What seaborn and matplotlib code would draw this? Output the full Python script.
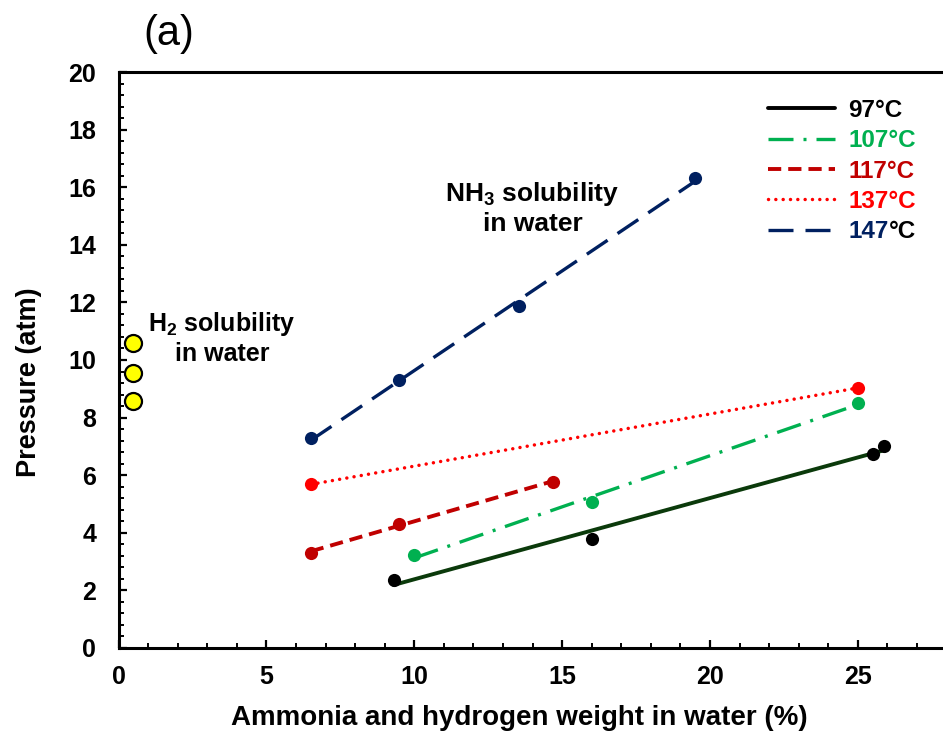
import numpy as np
import matplotlib
matplotlib.use("Agg")
import matplotlib.pyplot as plt
import seaborn as sns
from matplotlib.lines import Line2D
from matplotlib.ticker import MultipleLocator

sns.set_theme(style="white")
plt.rcParams["font.family"] = ["Liberation Sans", "DejaVu Sans"]
plt.rcParams["font.weight"] = "bold"
plt.rcParams["mathtext.fontset"] = "custom"
plt.rcParams["mathtext.rm"] = "Liberation Sans:bold"
plt.rcParams["mathtext.it"] = "Liberation Sans:bold"
plt.rcParams["mathtext.bf"] = "Liberation Sans:bold"

# Ammonia solubility: pressure vs. weight fraction at each temperature
temps = ["97°C", "107°C", "117°C", "137°C", "147°C"]
x_97 = [9.3, 16.0, 25.5, 25.9]
y_97 = [2.37, 3.77, 6.74, 7.01]
x_107 = [10.0, 16.0, 25.0]
y_107 = [3.23, 5.08, 8.52]
x_117 = [6.5, 9.5, 14.7]
y_117 = [3.31, 4.32, 5.77]
x_137 = [6.5, 25.0]
y_137 = [5.68, 9.03]
x_147 = [6.5, 9.5, 13.55, 19.5]
y_147 = [7.29, 9.31, 11.87, 16.32]

# Hydrogen solubility
x_h2 = [0.5, 0.5, 0.5]
y_h2 = [10.6, 9.56, 8.59]

x_ticks = [0, 5, 10, 15, 20, 25]
y_ticks = [0, 2, 4, 6, 8, 10, 12, 14, 16, 18, 20]

series = [
    # x, y, point colour, fit-line colour, label colour, linewidth, dashes, cap
    (x_97, y_97, "black", "#0B3A0B", "black", 2.8, None, "butt"),
    (x_107, y_107, "#00B050", "#00B050", "#00B050", 2.4, (7.5, 3.0, 0.9, 3.0), "butt"),
    (x_117, y_117, "#C00000", "#C00000", "#C00000", 2.8, (3.4, 1.8), "butt"),
    (x_137, y_137, "#FF0000", "#FF0000", "#FF0000", 2.5, (0.01, 2.1), "round"),
    (x_147, y_147, "#002060", "#002060", "#002060", 2.4, (7.5, 3.6), "butt"),
]

fig = plt.figure(figsize=(9.43, 7.34), dpi=100)
ax = fig.add_axes([0.1257, 0.1172, 0.878, 0.7847])

handles = []
for xs, ys, pc, lc, tc, lw, dash, cap in series:
    ls = "-" if dash is None else (0, dash)
    sns.regplot(
        x=np.array(xs), y=np.array(ys), ax=ax, ci=None, truncate=True,
        scatter_kws=dict(s=90, color=pc, alpha=1, linewidths=0, zorder=4),
        line_kws=dict(color=lc, lw=lw, linestyle=ls, dash_capstyle=cap, zorder=3),
    )
    handles.append(Line2D([], [], color=tc, lw=lw, linestyle=ls,
                          dash_capstyle=cap))

sns.scatterplot(x=x_h2, y=y_h2, ax=ax, s=150, color="#FFFF00",
                edgecolor="black", linewidth=1.6, zorder=5)

ax.set_xlim(0, 28)
ax.set_ylim(0, 20)
ax.set_xticks(x_ticks)
ax.set_yticks(y_ticks)
ax.xaxis.set_minor_locator(MultipleLocator(1))
ax.yaxis.set_minor_locator(MultipleLocator(0.4))
ax.tick_params(which="major", direction="in", length=6, width=1.6,
               labelsize=18, colors="black", bottom=True, left=True)
ax.tick_params(which="minor", direction="in", length=3.5, width=1.4,
               colors="black", bottom=True, left=True)
ax.tick_params(axis="y", which="major", pad=16)
ax.tick_params(axis="x", which="major", pad=12)
for lab in ax.get_xticklabels() + ax.get_yticklabels():
    lab.set_fontweight("bold")

for side in ["left", "bottom", "top", "right"]:
    ax.spines[side].set_visible(True)
    ax.spines[side].set_color("black")
    ax.spines[side].set_linewidth(2.2)

ax.set_xlabel("Ammonia and hydrogen weight in water (%)", fontsize=20,
              fontweight="bold", color="black")
ax.set_ylabel("Pressure (atm)", fontsize=19.5, fontweight="bold",
              color="black")
ax.xaxis.label.set_va("center")
ax.yaxis.label.set_va("center")
ax.xaxis.set_label_coords(0.4837, -70 / 576)
ax.yaxis.set_label_coords(-89.5 / 828, 266 / 576)

ax.text(3.5, 10.76, "H$_2$ solubility\nin water", fontsize=18,
        fontweight="bold", ha="center", va="center", color="black")
ax.text(14.0, 15.28, "NH$_3$ solubility\nin water", fontsize=19,
        fontweight="bold", ha="center", va="center", color="black")

fig.text(169 / 943, 1 - 34 / 734, "(a)", fontsize=30, fontweight="normal",
         ha="center", va="center", color="black")

labels = temps[:-1] + ["147"]
leg = ax.legend(handles, labels, loc="upper left",
                bbox_to_anchor=(768 / 943, 1 - 99 / 734),
                bbox_transform=fig.transFigure, frameon=False,
                prop=dict(size=17.5, weight="bold"), handlelength=2.75,
                handletextpad=0.55, labelspacing=0.3, borderpad=0,
                borderaxespad=0)
for t, s in zip(leg.get_texts(), series):
    t.set_color(s[4])

# the degree sign of the last entry is printed in black after the navy number
fig.canvas.draw()
last = leg.get_texts()[-1]
bb = last.get_window_extent(fig.canvas.get_renderer())
fig.text(bb.x1 / fig.bbox.width, bb.y0 / fig.bbox.height, "°C",
         fontsize=17.5, fontweight="bold", color="black",
         ha="left", va="bottom")

fig.savefig("out.png", dpi=100)
